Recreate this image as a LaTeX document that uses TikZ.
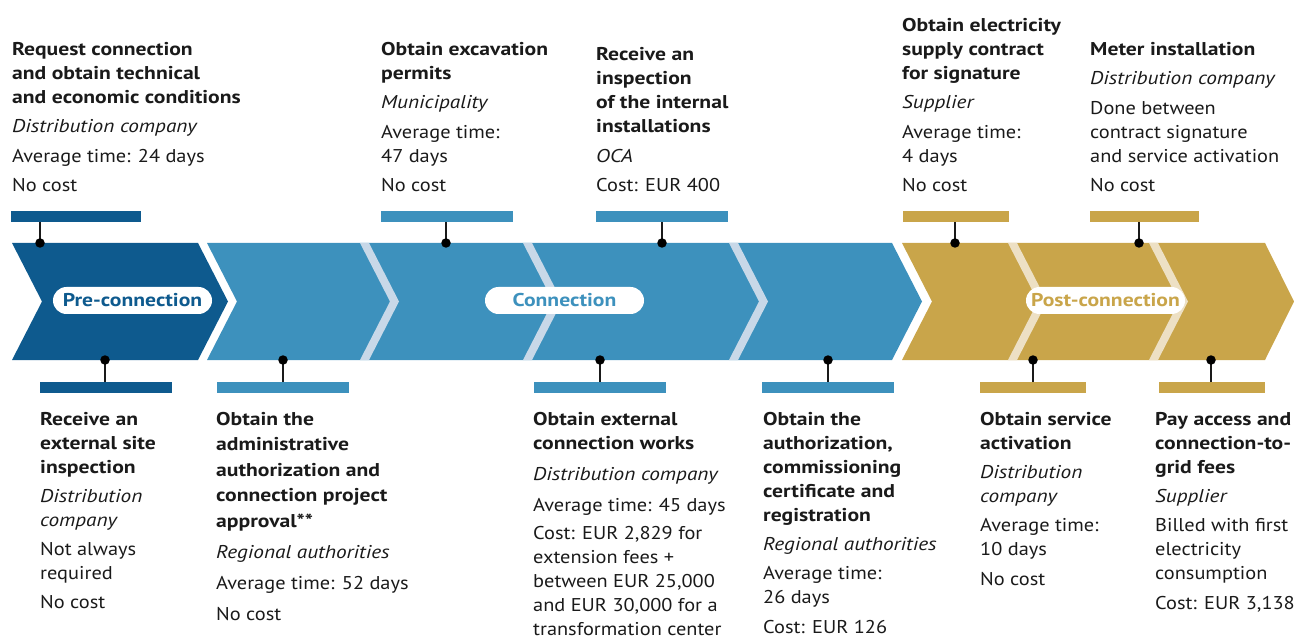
\documentclass[tikz,border=0pt]{standalone}
\usepackage{fontspec}
\setmainfont{PT Sans}[
  UprightFeatures={FakeStretch=1.10},
  BoldFeatures={FakeStretch=1.17},
  ItalicFeatures={FakeStretch=1.15}]
\definecolor{darkblue}{RGB}{14,90,142}
\definecolor{midblue}{RGB}{61,145,189}
\definecolor{paleblue}{RGB}{200,216,232}
\definecolor{gold}{RGB}{201,165,74}
\definecolor{palegold}{RGB}{237,224,196}
\definecolor{ink}{RGB}{26,26,26}
\newcommand\firstln{\rule{0pt}{17bp}}
\newcommand\lastln{\rule[-7bp]{0pt}{7bp}}
\begin{document}
\begin{tikzpicture}[x=1bp,y=-1bp,
  txt/.style={inner sep=0pt, align=left, text=ink, font=\fontsize{18.5bp}{24bp}\selectfont},
  bar/.style={inner sep=0pt, minimum height=10.5bp, fill=#1},
  dot/.style={circle, fill=black, inner sep=0pt, minimum size=9.5bp},
  stem/.style={draw=ink, line width=1.4bp},
  pill/.style={fill=white, rounded corners=13.5bp, minimum width=159bp, minimum height=27bp, inner sep=0pt,
               font=\fontsize{18.5bp}{24bp}\selectfont\bfseries, text=#1}]
\useasboundingbox (0,0) rectangle (1294,639);

% ---- arrow band ----
\fill[darkblue] (12,243) -- (198,243) -- (228,301.5) -- (198,360) -- (12,360) -- (42,301.5) -- cycle;
\fill[midblue] (207,243) -- (892,243) -- (922,301.5) -- (892,360) -- (207,360) -- (237,301.5) -- cycle;
\fill[gold] (902,243) -- (1265,243) -- (1294,301.5) -- (1265,360) -- (902,360) -- (932,301.5) -- cycle;
% stripes between steps
\foreach \a/\c in {360/paleblue, 523/paleblue, 729/paleblue, 1008/palegold, 1149/palegold}
  \fill[\c] (\a,243) -- (\a+9,243) -- (\a+39,301.5) -- (\a+9,360) -- (\a,360) -- (\a+30,301.5) -- cycle;

% ---- phase labels ----
\node[pill=darkblue] (pre)  at (132.5,300.5) {Pre-connection};
\node[pill=midblue]  (conn) at (564.5,300.5) {Connection};
\node[pill=gold]     (post) at (1105.5,300.5) {Post-connection};

% ---- bars above the band ----
\node[bar=darkblue, minimum width=130bp, anchor=north west] (ba1) at (11,211) {};
\node[bar=midblue,  minimum width=132bp, anchor=north west] (ba2) at (381,211) {};
\node[bar=midblue,  minimum width=132bp, anchor=north west] (ba3) at (596,211) {};
\node[bar=gold,     minimum width=106bp, anchor=north west] (ba4) at (903,211) {};
\node[bar=gold,     minimum width=109bp, anchor=north west] (ba5) at (1090,211) {};
% ---- bars below the band ----
\node[bar=darkblue, minimum width=132bp, anchor=north west] (bb1) at (40,382) {};
\node[bar=midblue,  minimum width=132bp, anchor=north west] (bb2) at (217,382) {};
\node[bar=midblue,  minimum width=132bp, anchor=north west] (bb3) at (534,382) {};
\node[bar=midblue,  minimum width=132bp, anchor=north west] (bb4) at (762,382) {};
\node[bar=gold,     minimum width=106bp, anchor=north west] (bb5) at (980,382) {};
\node[bar=gold,     minimum width=106bp, anchor=north west] (bb6) at (1159,382) {};

% ---- dots on the band edges ----
\coordinate (da1) at (40,243);
\coordinate (da2) at (446,243);
\coordinate (da3) at (662,243);
\coordinate (da4) at (955,243);
\coordinate (da5) at (1139,243);
\coordinate (db1) at (105,360);
\coordinate (db2) at (283,360);
\coordinate (db3) at (600,360);
\coordinate (db4) at (828,360);
\coordinate (db5) at (1033,360);
\coordinate (db6) at (1211,360);
\foreach \i in {1,...,5} \draw[stem] (ba\i.south -| da\i) -- (da\i);
\foreach \i in {1,...,6} \draw[stem] (bb\i.north -| db\i) -- (db\i);
\foreach \i in {1,...,5} \node[dot] (pa\i) at (da\i) {};
\foreach \i in {1,...,6} \node[dot] (pb\i) at (db\i) {};

% ---- step descriptions above ----
\node[txt, anchor=south west] (t1) at (12,199) {%
  \textbf{Request connection}\\ \textbf{and obtain technical}\\ \textbf{and economic conditions}\\[5.5bp]
  \textit{Distribution company}\\[5.5bp]
  Average time: 24 days\\[5.5bp]
  No cost\lastln};
\node[txt, anchor=south west] (t2) at (381,199) {%
  \textbf{Obtain excavation}\\ \textbf{permits}\\[5.5bp]
  \textit{Municipality}\\[5.5bp]
  Average time:\\ 47 days\\[5.5bp]
  No cost\lastln};
\node[txt, anchor=south west] (t3) at (596,199) {%
  \textbf{Receive an}\\ \textbf{inspection}\\ \textbf{of the internal}\\ \textbf{installations}\\[5.5bp]
  \textit{OCA}\\[5.5bp]
  Cost: EUR 400\lastln};
\node[txt, anchor=south west] (t4) at (902,199) {%
  \textbf{Obtain electricity}\\ \textbf{supply contract}\\ \textbf{for signature}\\[5.5bp]
  \textit{Supplier}\\[5.5bp]
  Average time:\\ 4 days\\[5.5bp]
  No cost\lastln};
\node[txt, anchor=south west] (t5) at (1090,199) {%
  \textbf{Meter installation}\\[5.5bp]
  \textit{Distribution company}\\[5.5bp]
  Done between\\ contract signature\\ and service activation\\[5.5bp]
  No cost\lastln};

% ---- step descriptions below ----
\node[txt, anchor=north west] (s1) at (40,408) {%
  \firstln\textbf{Receive an}\\ \textbf{external site}\\ \textbf{inspection}\\[5bp]
  \textit{Distribution}\\ \textit{company}\\[5bp]
  Not always\\ required\\[5bp]
  No cost};
\node[txt, font=\fontsize{18.5bp}{25.5bp}\selectfont, anchor=north west] (s2) at (216,408) {%
  \firstln\textbf{Obtain the}\\ \textbf{administrative}\\ \textbf{authorization and}\\ \textbf{connection project}\\ \textbf{approval**}\\[6bp]
  \textit{Regional authorities}\\[5.5bp]
  Average time: 52 days\\[5bp]
  No cost};
\node[txt, anchor=north west] (s3) at (533,408) {%
  \firstln\textbf{Obtain external}\\ \textbf{connection works}\\[7bp]
  \textit{Distribution company}\\[7bp]
  Average time: 45 days\\[4.5bp]
  Cost: EUR 2,829 for\\ extension fees +\\ between EUR 25,000\\ and EUR 30,000 for a\\ transformation center};
\node[txt, anchor=north west] (s4) at (763,408) {%
  \firstln\textbf{Obtain the}\\ \textbf{authorization,}\\ \textbf{commissioning}\\ \textbf{certificate and}\\ \textbf{registration}\\[5bp]
  \textit{Regional authorities}\\[5bp]
  Average time:\\ 26 days\\[6bp]
  Cost: EUR 126};
\node[txt, anchor=north west] (s5) at (980,408) {%
  \firstln\textbf{Obtain service}\\ \textbf{activation}\\[5bp]
  \textit{Distribution}\\ \textit{company}\\[5bp]
  Average time:\\ 10 days\\[6bp]
  No cost};
\node[txt, anchor=north west] (s6) at (1155,408) {%
  \firstln\textbf{Pay access and}\\ \textbf{connection-to-}\\ \textbf{grid fees}\\[5bp]
  \textit{Supplier}\\[5bp]
  Billed with first\\ electricity\\ consumption\\[6bp]
  Cost: EUR 3,138};
\end{tikzpicture}
\end{document}
